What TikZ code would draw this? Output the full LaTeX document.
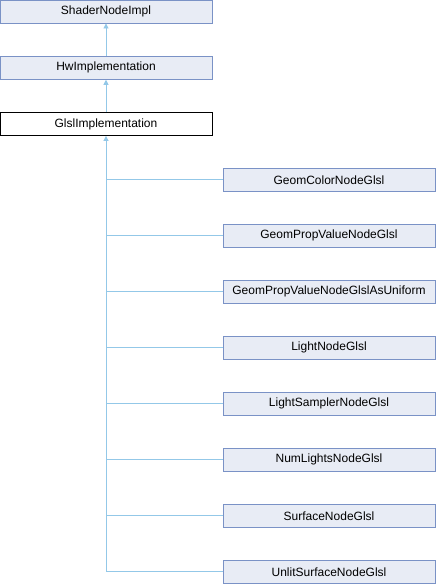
\documentclass[tikz,border=0pt]{standalone}
\usepackage{fontspec}
\setmainfont{Liberation Sans}
\usetikzlibrary{arrows.meta}
\definecolor{boxfill}{HTML}{E8ECF5}
\definecolor{boxline}{HTML}{7A92C6}
\definecolor{edgecol}{HTML}{93C8E8}
\tikzset{
  cls/.style={draw=boxline, fill=boxfill, line width=0.9pt, minimum width=212pt, minimum height=23pt, inner sep=0pt, font=\fontsize{12}{14}\selectfont},
  cur/.style={cls, draw=black, fill=white},
  edge/.style={draw=edgecol, line width=0.9pt},
  inh/.style={edge, {Triangle[width=5pt,length=5pt,fill=edgecol]}-}
}
\begin{document}
\begin{tikzpicture}[x=1pt,y=-1pt]
\useasboundingbox (0,0) rectangle (436,584);
\node[cls] (a) at (106,11.5) {ShaderNodeImpl};
\node[cls] (b) at (106,67.8) {HwImplementation};
\node[cur] (c) at (106,124) {GlslImplementation};
\node[cls] (d1) at (329,179.8) {GeomColorNodeGlsl};
\node[cls] (d2) at (329,235.8) {GeomPropValueNodeGlsl};
\node[cls] (d3) at (329,291.8) {GeomPropValueNodeGlslAsUniform};
\node[cls] (d4) at (329,347.8) {LightNodeGlsl};
\node[cls] (d5) at (329,403.8) {LightSamplerNodeGlsl};
\node[cls] (d6) at (329,459.8) {NumLightsNodeGlsl};
\node[cls] (d7) at (329,515.8) {SurfaceNodeGlsl};
\node[cls] (d8) at (329,571.8) {UnlitSurfaceNodeGlsl};
\draw[inh] (a.south) -- (b.north);
\draw[inh] (b.south) -- (c.north);
\coordinate (corner) at (c.south |- d8.west);
\draw[inh] (c.south) -- (corner) -- (d8.west);
\foreach \i in {1,...,7} {
  \draw[edge] (c.south |- d\i.west) -- (d\i.west);
}
\end{tikzpicture}
\end{document}
